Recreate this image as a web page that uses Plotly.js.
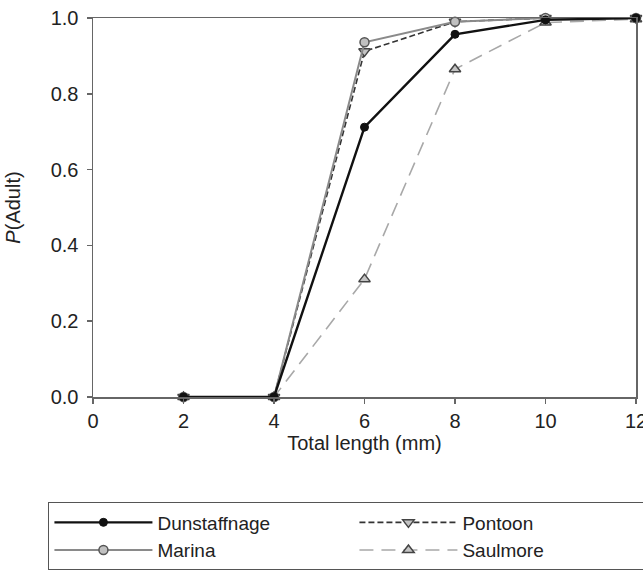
<!DOCTYPE html>
<html>
<head>
<meta charset="utf-8">
<script src="https://cdn.plot.ly/plotly-3.0.1.min.js"></script>
<style>html,body{margin:0;padding:0;background:#fff;}#chart{width:643px;height:570px;}</style>
</head>
<body>
<div id="chart"></div>
<script>
const lengthMM = [2, 4, 6, 8, 10, 12];
const dunstaffnage = [0, 0, 0.712, 0.957, 0.995, 1.0];
const marina = [0, 0, 0.936, 0.990, 1.0, 1.0];
const pontoon = [0, 0, 0.912, 0.990, 1.0, 1.0];
const saulmore = [0, 0, 0.311, 0.865, 0.988, 0.997];
const seriesNames = ['Dunstaffnage', 'Marina', 'Pontoon', 'Saulmore'];
const xTicks = [0, 2, 4, 6, 8, 10, 12];
const yTicks = [0, 0.2, 0.4, 0.6, 0.8, 1.0];
const yTickText = ['0.0', '0.2', '0.4', '0.6', '0.8', '1.0'];

const FONT = 'Liberation Sans, Arial, sans-serif';
const FS = 20;

const traces = [
  {x: lengthMM, y: saulmore, name: seriesNames[3], legendrank: 4, mode: 'lines+markers', cliponaxis: false,
   line: {color: '#a8a8a8', width: 1.6, dash: '14px,8px'},
   marker: {symbol: 'triangle-up', size: 10, color: '#c4c4c4', line: {color: '#444', width: 1.5}}},
  {x: lengthMM, y: pontoon, name: seriesNames[2], legendrank: 2, mode: 'lines+markers', cliponaxis: false,
   line: {color: '#333', width: 1.6, dash: '6px,3px'},
   marker: {symbol: 'triangle-down', size: 10, color: '#c4c4c4', line: {color: '#444', width: 1.5}}},
  {x: lengthMM, y: marina, name: seriesNames[1], legendrank: 3, mode: 'lines+markers', cliponaxis: false,
   line: {color: '#8a8a8a', width: 2},
   marker: {symbol: 'circle', size: 9, color: '#c0c0c0', line: {color: '#555', width: 1.5}}},
  {x: lengthMM, y: dunstaffnage, name: seriesNames[0], legendrank: 1, mode: 'lines+markers', cliponaxis: false,
   line: {color: '#111', width: 2.4},
   marker: {symbol: 'circle', size: 8, color: '#111', line: {color: '#111', width: 1}}}
];

const layout = {
  width: 643, height: 570,
  margin: {l: 93, r: 7, t: 18, b: 173, autoexpand: false},
  paper_bgcolor: '#fff', plot_bgcolor: '#fff',
  font: {family: FONT, size: FS, color: '#222'},
  showlegend: true,
  xaxis: {
    range: [0, 12], tickvals: xTicks, ticktext: xTicks.map(String),
    showgrid: false, zeroline: false,
    showline: true, linecolor: '#666', linewidth: 1.5, mirror: true,
    ticks: 'outside', ticklen: 5, tickcolor: '#666', tickwidth: 1.5,
    ticklabeloverflow: 'allow',
    tickfont: {family: FONT, size: FS, color: '#222'},
    title: {text: 'Total length (mm)', font: {family: FONT, size: FS, color: '#222'}, standoff: 4}
  },
  yaxis: {
    range: [0, 1.0], tickvals: yTicks, ticktext: yTickText,
    showgrid: false, zeroline: false,
    showline: true, linecolor: '#666', linewidth: 1.5, mirror: true,
    ticks: 'outside', ticklen: 5, tickcolor: '#666', tickwidth: 1.5,
    ticklabelstandoff: 4,
    tickfont: {family: FONT, size: FS, color: '#222'},
    title: {text: '<i>P</i>(Adult)', font: {family: FONT, size: FS, color: '#222'}, standoff: 24}
  },
  legend: {
    orientation: 'h', x: -0.083, xanchor: 'left', y: -0.277, yanchor: 'top',
    bgcolor: '#fff', bordercolor: '#555', borderwidth: 1.5,
    font: {family: FONT, size: 19, color: '#222'},
    itemwidth: 98, entrywidth: 192, tracegroupgap: 0
  }
};

Plotly.newPlot('chart', traces, layout, {displayModeBar: false, staticPlot: true});
</script>
</body>
</html>
